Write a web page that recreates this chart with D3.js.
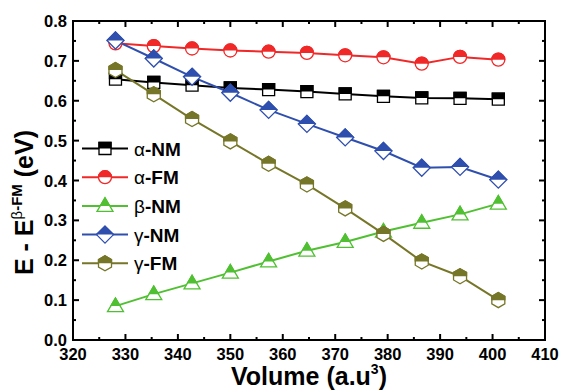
<!DOCTYPE html>
<html>
<head>
<meta charset="utf-8">
<script src="https://cdn.jsdelivr.net/npm/d3@7"></script>
<style>
  body { margin: 0; background: #fff; }
  text { font-family: Arial, "Liberation Sans", sans-serif; font-weight: bold; }
</style>
</head>
<body>
<div id="chart"></div>
<script>
const volumes = [328.1, 335.4, 342.7, 350.0, 357.3, 364.6, 371.9, 379.2, 386.5, 393.8, 401.1];
const alphaNM = [0.654, 0.646, 0.639, 0.632, 0.628, 0.623, 0.617, 0.611, 0.607, 0.606, 0.604];
const alphaFM = [0.744, 0.737, 0.731, 0.726, 0.723, 0.720, 0.714, 0.709, 0.693, 0.710, 0.703];
const betaNM = [0.085, 0.115, 0.142, 0.169, 0.197, 0.224, 0.246, 0.272, 0.294, 0.315, 0.342];
const gammaNM = [0.751, 0.706, 0.660, 0.620, 0.577, 0.542, 0.508, 0.474, 0.432, 0.434, 0.402];
const gammaFM = [0.677, 0.616, 0.554, 0.498, 0.442, 0.390, 0.330, 0.266, 0.197, 0.160, 0.100];
const xTicks = [320, 330, 340, 350, 360, 370, 380, 390, 400, 410];
const yTicks = [0.0, 0.1, 0.2, 0.3, 0.4, 0.5, 0.6, 0.7, 0.8];

const series = [
  { greek: 'α', name: '-NM', values: alphaNM, color: '#000000', shape: 'square' },
  { greek: 'α', name: '-FM', values: alphaFM, color: '#f02828', shape: 'circle' },
  { greek: 'β', name: '-NM', values: betaNM, color: '#50c032', shape: 'triangle' },
  { greek: 'γ', name: '-NM', values: gammaNM, color: '#2f4fae', shape: 'diamond' },
  { greek: 'γ', name: '-FM', values: gammaFM, color: '#767628', shape: 'hexagon' }
];

const width = 561, height = 390;
const margin = { top: 21, right: 16, bottom: 50, left: 73 };

const svg = d3.select('#chart').append('svg')
  .attr('width', width)
  .attr('height', height);

const x = d3.scaleLinear().domain([320, 410]).range([margin.left, width - margin.right]);
const y = d3.scaleLinear().domain([0, 0.8]).range([height - margin.bottom, margin.top]);

// shapes, centred on 0,0
const shapes = {
  square: 'M-6,-6H6V6H-6Z',
  circle: 'M-6.5,0A6.5,6.5 0 1,1 6.5,0A6.5,6.5 0 1,1 -6.5,0Z',
  triangle: 'M0,-8L8,5.5H-8Z',
  diamond: 'M0,-8.5L8.5,0L0,8.5L-8.5,0Z',
  hexagon: 'M0,-7.5L6.5,-3.75V3.75L0,7.5L-6.5,3.75V-3.75Z'
};

svg.append('defs').append('clipPath')
  .attr('id', 'tophalf')
  .append('rect')
  .attr('x', -12).attr('y', -12).attr('width', 24).attr('height', 12);

function drawMarker(g, s) {
  g.append('path').attr('d', shapes[s.shape])
    .attr('fill', '#fff').attr('stroke', s.color).attr('stroke-width', 1.3);
  g.append('path').attr('d', shapes[s.shape])
    .attr('fill', s.color).attr('stroke', s.color).attr('stroke-width', 1.3)
    .attr('clip-path', 'url(#tophalf)');
}

// axes frame
const x0 = margin.left, x1 = width - margin.right;
const y0 = height - margin.bottom, y1 = margin.top;

const frame = svg.append('g');
const tickColor = '#000';

// x ticks (inward, bottom and top)
const xMinor = d3.range(325, 410, 10);
xTicks.forEach(v => {
  frame.append('line').attr('x1', x(v)).attr('x2', x(v)).attr('y1', y0).attr('y2', y0 - 6).attr('stroke', tickColor).attr('stroke-width', 2);
  frame.append('line').attr('x1', x(v)).attr('x2', x(v)).attr('y1', y1).attr('y2', y1 + 6).attr('stroke', tickColor).attr('stroke-width', 2);
});
xMinor.forEach(v => {
  frame.append('line').attr('x1', x(v)).attr('x2', x(v)).attr('y1', y0).attr('y2', y0 - 3).attr('stroke', tickColor).attr('stroke-width', 2);
  frame.append('line').attr('x1', x(v)).attr('x2', x(v)).attr('y1', y1).attr('y2', y1 + 3).attr('stroke', tickColor).attr('stroke-width', 2);
});
const yMinor = d3.range(0.05, 0.8, 0.1);
yTicks.forEach(v => {
  frame.append('line').attr('y1', y(v)).attr('y2', y(v)).attr('x1', x0).attr('x2', x0 + 6).attr('stroke', tickColor).attr('stroke-width', 2);
  frame.append('line').attr('y1', y(v)).attr('y2', y(v)).attr('x1', x1).attr('x2', x1 - 6).attr('stroke', tickColor).attr('stroke-width', 2);
});
yMinor.forEach(v => {
  frame.append('line').attr('y1', y(v)).attr('y2', y(v)).attr('x1', x0).attr('x2', x0 + 3).attr('stroke', tickColor).attr('stroke-width', 2);
  frame.append('line').attr('y1', y(v)).attr('y2', y(v)).attr('x1', x1).attr('x2', x1 - 3).attr('stroke', tickColor).attr('stroke-width', 2);
});

frame.append('rect')
  .attr('x', x0).attr('y', y1).attr('width', x1 - x0).attr('height', y0 - y1)
  .attr('fill', 'none').attr('stroke', '#000').attr('stroke-width', 2);

// tick labels
svg.append('g').selectAll('text').data(xTicks).join('text')
  .attr('x', d => x(d)).attr('y', y0 + 20)
  .attr('text-anchor', 'middle').attr('font-size', 16.5)
  .text(d => d);

svg.append('g').selectAll('text').data(yTicks).join('text')
  .attr('x', x0 - 6).attr('y', d => y(d) + 6)
  .attr('text-anchor', 'end').attr('font-size', 16.5)
  .text(d => d.toFixed(1));

// axis titles
const xt = svg.append('text')
  .attr('x', (x0 + x1) / 2).attr('y', 385)
  .attr('text-anchor', 'middle').attr('font-size', 25);
xt.append('tspan').text('Volume (a.u');
xt.append('tspan').attr('font-size', 14).attr('dy', -11).text('3');
xt.append('tspan').attr('dy', 11).text(')');

const yt = svg.append('text')
  .attr('transform', `translate(33,${(y0 + y1) / 2 + 22}) rotate(-90)`)
  .attr('text-anchor', 'middle').attr('font-size', 25);
yt.append('tspan').text('E - E');
yt.append('tspan').attr('font-size', 15).attr('dy', -11).attr('font-weight', 'normal').text('β');
yt.append('tspan').attr('font-size', 15).text('-FM');
yt.append('tspan').attr('dy', 11).text(' (eV)');

// series
const line = d3.line().x((d, i) => x(volumes[i])).y(d => y(d));

series.forEach(s => {
  svg.append('path').datum(s.values)
    .attr('d', line)
    .attr('fill', 'none').attr('stroke', s.color).attr('stroke-width', 2);
});
series.forEach(s => {
  svg.append('g').selectAll('g').data(s.values).join('g')
    .attr('transform', (d, i) => `translate(${x(volumes[i])},${y(d)})`)
    .each(function() { drawMarker(d3.select(this), s); });
});

// legend
const legend = svg.append('g');
series.forEach((s, i) => {
  const ly = 148.5 + i * 28.7;
  legend.append('line').attr('x1', 82).attr('x2', 128).attr('y1', ly).attr('y2', ly)
    .attr('stroke', s.color).attr('stroke-width', 2);
  drawMarker(legend.append('g').attr('transform', `translate(105,${ly})`), s);
  const t = legend.append('text').attr('x', 134).attr('y', ly + 7).attr('font-size', 19);
  t.append('tspan').attr('font-weight', 'normal').text(s.greek);
  t.append('tspan').text(s.name);
});
</script>
</body>
</html>
